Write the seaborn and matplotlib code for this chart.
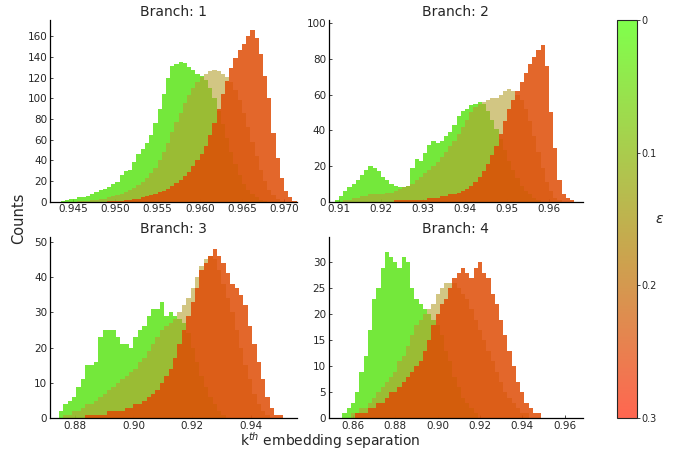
import numpy as np
import pandas as pd
import matplotlib
matplotlib.use("Agg")
import matplotlib.pyplot as plt
import seaborn as sns
from matplotlib.colors import LinearSegmentedColormap, Normalize
from matplotlib.cm import ScalarMappable

# ---------------- data (bin counts) ----------------
# Branch 1: bins of width 0.0005 starting at 0.9435
b1_start, b1_width = 0.9435, 0.0005
b1_eps0 = [1, 2, 3, 3, 4, 4, 5, 7, 9, 11, 12, 14, 17, 19, 26, 30, 31, 38, 46, 51,
           57, 64, 76, 90, 104, 120, 131, 133, 135, 134, 130, 127, 124, 122, 118, 110, 100, 88, 75, 62,
           48, 36, 26, 17, 11, 7, 4, 2, 1, 0, 0, 0, 0, 0, 0, 0]
b1_eps15 = [0, 0, 0, 0, 1, 1, 1, 2, 2, 3, 3, 4, 5, 6, 7, 9, 11, 13, 16, 19,
            23, 28, 33, 40, 48, 57, 67, 77, 86, 95, 103, 110, 116, 121, 124, 126, 127, 126, 124, 121,
            116, 108, 98, 86, 72, 58, 44, 31, 20, 11, 6, 3, 1, 0, 0, 0]
b1_eps30 = [0, 0, 0, 0, 0, 0, 0, 0, 0, 0, 0, 1, 1, 1, 1, 2, 2, 3, 3, 4,
            5, 6, 7, 9, 10, 12, 15, 18, 21, 25, 29, 34, 40, 46, 54, 64, 76, 90, 104, 117,
            129, 139, 147, 153, 160, 166, 158, 143, 122, 100, 66, 42, 23, 10, 4, 1]

# Branch 2: bins of width 0.001 starting at 0.909
b2_start, b2_width = 0.909, 0.001
b2_eps0 = [1, 3, 6, 8, 10, 12, 15, 18, 20, 19, 17, 14, 12, 10, 9, 8, 8, 9, 19, 24,
           23, 27, 32, 34, 33, 34, 37, 39, 43, 48, 51, 52, 54, 55, 56, 55, 51, 46, 41, 35,
           29, 23, 18, 13, 9, 6, 4, 2, 1, 0, 0, 0, 0, 0, 0, 0, 0, 0]
b2_eps15 = [0, 0, 1, 1, 2, 2, 3, 3, 4, 4, 4, 4, 5, 5, 6, 7, 8, 9, 10, 12,
            14, 16, 18, 20, 22, 25, 28, 31, 34, 38, 42, 46, 50, 53, 55, 56, 57, 58, 58, 60,
            62, 63, 62, 60, 57, 52, 45, 37, 28, 19, 11, 6, 2, 1, 0, 0, 0, 0]
b2_eps30 = [0, 0, 0, 0, 0, 0, 0, 0, 0, 0, 0, 0, 0, 0, 1, 1, 1, 1, 1, 1,
            1, 1, 2, 2, 2, 3, 3, 4, 4, 5, 6, 7, 9, 11, 14, 17, 21, 26, 31, 38,
            45, 52, 57, 62, 67, 72, 77, 81, 85, 88, 76, 50, 30, 12, 4, 2, 1, 0]

# Branch 3: bins of width 0.0015 starting at 0.8745
b3_start, b3_width = 0.8745, 0.0015
b3_eps0 = [2, 4, 5, 6, 9, 11, 15, 15, 16, 23, 25, 25, 25, 23, 21, 21, 20, 23, 25, 26,
           29, 31, 31, 33, 29, 30, 29, 28, 27, 24, 20, 16, 12, 9, 6, 4, 2, 1, 0, 0,
           0, 0, 0, 0, 0, 0, 0, 0, 0, 0, 0, 0]
b3_eps15 = [0, 1, 1, 2, 2, 3, 4, 4, 5, 6, 7, 8, 9, 10, 11, 12, 13, 14, 16, 17,
            19, 21, 23, 25, 26, 27, 28, 30, 32, 34, 37, 40, 43, 45, 46, 45, 42, 38, 34, 30,
            25, 20, 15, 11, 7, 4, 2, 1, 0, 0, 0, 0]
b3_eps30 = [0, 0, 0, 0, 0, 0, 1, 1, 1, 1, 1, 2, 2, 2, 2, 3, 3, 4, 4, 5,
            6, 7, 8, 10, 12, 14, 17, 21, 25, 29, 33, 37, 42, 44, 46, 48, 46, 44, 41, 38,
            37, 35, 32, 26, 21, 16, 11, 6, 3, 1, 1, 0]

# Branch 4: bins of width 0.002 starting at 0.853
b4_start, b4_width = 0.853, 0.002
b4_eps0 = [0, 1, 2, 3, 5, 9, 12, 17, 23, 25, 29, 32, 31, 30, 29, 31, 30, 25, 23, 22,
           21, 20, 19, 18, 16, 13, 11, 8, 6, 4, 3, 2, 1, 0, 0, 0, 0, 0, 0, 0,
           0, 0, 0, 0, 0, 0, 0, 0, 0, 0]
b4_eps15 = [0, 0, 0, 1, 1, 2, 2, 3, 4, 5, 6, 7, 8, 9, 11, 12, 14, 16, 18, 19,
            20, 21, 22, 24, 25, 26, 26, 26, 25, 24, 23, 21, 19, 17, 15, 13, 11, 9, 7, 5,
            4, 3, 2, 1, 1, 0, 0, 0, 0, 0]
b4_eps30 = [0, 0, 0, 0, 1, 1, 1, 2, 2, 3, 3, 4, 5, 5, 6, 7, 8, 9, 10, 11,
            13, 15, 18, 20, 22, 23, 25, 27, 28, 29, 28, 27, 29, 30, 28, 27, 24, 22, 19, 16,
            13, 10, 7, 5, 3, 2, 1, 1, 0, 0]

eps_values = [0.0, 0.15, 0.3]
branch_titles = ["Branch: 1", "Branch: 2", "Branch: 3", "Branch: 4"]
x_ticks = [
    [0.945, 0.950, 0.955, 0.960, 0.965, 0.970],
    [0.91, 0.92, 0.93, 0.94, 0.95, 0.96],
    [0.88, 0.90, 0.92, 0.94],
    [0.86, 0.88, 0.90, 0.92, 0.94, 0.96],
]
x_tick_labels = [
    ["0.945", "0.950", "0.955", "0.960", "0.965", "0.970"],
    ["0.91", "0.92", "0.93", "0.94", "0.95", "0.96"],
    ["0.88", "0.90", "0.92", "0.94"],
    ["0.86", "0.88", "0.90", "0.92", "0.94", "0.96"],
]
y_ticks = [
    [0, 20, 40, 60, 80, 100, 120, 140, 160],
    [0, 20, 40, 60, 80, 100],
    [0, 10, 20, 30, 40, 50],
    [0, 5, 10, 15, 20, 25, 30],
]
cbar_ticks = [0, 0.1, 0.2, 0.3]
cbar_tick_labels = ["0", "0.1", "0.2", "0.3"]

branches = [
    (b1_start, b1_width, [b1_eps0, b1_eps15, b1_eps30]),
    (b2_start, b2_width, [b2_eps0, b2_eps15, b2_eps30]),
    (b3_start, b3_width, [b3_eps0, b3_eps15, b3_eps30]),
    (b4_start, b4_width, [b4_eps0, b4_eps15, b4_eps30]),
]

# ---------------- styling ----------------
sns.set_style("ticks")
plt.rcParams["font.family"] = ["DejaVu Sans"]

x_limits = [(0.94224, 0.97154), (0.90755, 0.968), (0.8715, 0.9558), (0.8485, 0.9685)]
y_limits = [(0, 176), (0, 102), (0, 51.3), (0, 34.9)]
axes_rects = [
    [0.074, 0.552, 0.366, 0.404],
    [0.487, 0.552, 0.376, 0.404],
    [0.074, 0.0704, 0.366, 0.403],
    [0.487, 0.0704, 0.376, 0.403],
]
bar_colors = ["#5ce418", "#b4a030", "#de4c06"]
bar_alphas = [0.85, 0.6, 0.85]

cmap = LinearSegmentedColormap.from_list("eps", ["#80ff4c", "#bfb24e", "#ff6650"])

fig = plt.figure(figsize=(6.75, 4.5), dpi=100)

for i, (start, width, series) in enumerate(branches):
    ax = fig.add_axes(axes_rects[i])
    n = len(series[0])
    edges = [start + width * k for k in range(n + 1)]
    centers = [e + width / 2 for e in edges[:-1]]
    for counts, col, a, eps in zip(series, bar_colors, bar_alphas, eps_values):
        df = pd.DataFrame({"separation": centers, "count": counts})
        sns.histplot(data=df, x="separation", weights="count", bins=edges,
                     color=col, alpha=a, element="bars", linewidth=0, ax=ax,
                     stat="count")
    ax.set_xlim(*x_limits[i])
    ax.set_ylim(*y_limits[i])
    ax.set_xticks(x_ticks[i])
    ax.set_xticklabels(x_tick_labels[i])
    ax.set_yticks(y_ticks[i])
    ax.set_title(branch_titles[i], fontsize=10, pad=3)
    ax.set_xlabel("")
    ax.set_ylabel("")
    ax.tick_params(axis="both", labelsize=7.5, length=2, width=0.6, pad=2, direction="in")
    for s in ["top", "right"]:
        ax.spines[s].set_visible(False)
    for s in ["left", "bottom"]:
        ax.spines[s].set_linewidth(0.9)
        ax.spines[s].set_color("black")

fig.text(0.027, 0.515, "Counts", rotation=90, ha="center", va="center", fontsize=10.5)
fig.text(0.489, 0.022, "k$^{th}$ embedding separation", ha="center", va="center", fontsize=10)

cax = fig.add_axes([0.914, 0.071, 0.0296, 0.884])
sm = ScalarMappable(norm=Normalize(vmin=0, vmax=0.3), cmap=cmap)
cb = fig.colorbar(sm, cax=cax)
cax.invert_yaxis()
cb.set_ticks(cbar_ticks)
cb.set_ticklabels(cbar_tick_labels)
cb.outline.set_linewidth(0.8)
cax.tick_params(labelsize=7, length=2, width=0.6, pad=1)
cb.set_label("$\\varepsilon$", rotation=0, fontsize=10, labelpad=2, va="center")

fig.savefig("out.png", dpi=100)
